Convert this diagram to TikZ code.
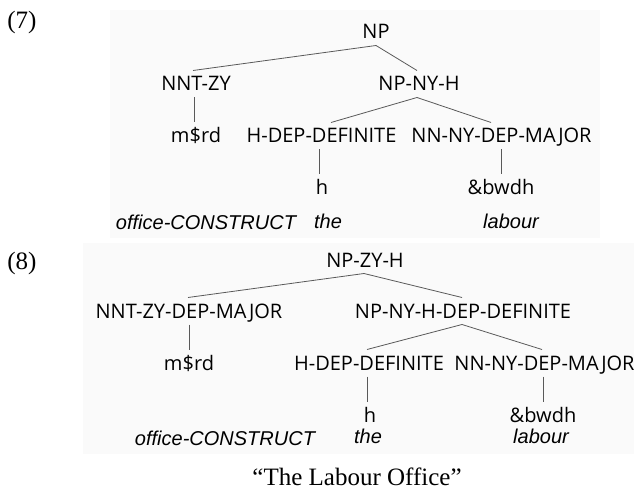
\documentclass[tikz,border=0pt]{standalone}
\usepackage{fontspec}
\setmainfont{Liberation Serif}
\newfontfamily\treefont{Open Sans}
\newfontfamily\glossfont{Liberation Sans}
\begin{document}
\begin{tikzpicture}[x=1pt,y=-1pt,
  lab/.style={font=\treefont\fontsize{20}{24}\selectfont, inner sep=0pt, outer ysep=6.5pt, text height=14pt, text depth=0pt, anchor=base},
  gloss/.style={font=\glossfont\itshape\fontsize{20}{24}\selectfont, inner sep=0pt, anchor=base},
  num/.style={font=\fontsize{25}{30}\selectfont, inner sep=0pt, anchor=base},
  edge/.style={draw=black!65, line width=0.8pt},
  panel/.style={fill=black!2, draw=none}]
\useasboundingbox (0,0) rectangle (634,489);
% panels
\fill[panel] (110,10) rectangle (600,238);
\fill[panel] (83,243) rectangle (634,454);

% ---------- (7) ----------
\node[num] (n7) at (22,29) {(7)};
\node[lab] (a-np)   at (376,39) {NP};
\node[lab] (a-nnt)  at (196,91) {NNT-ZY};
\node[lab] (a-npny) at (419,91) {NP-NY-H};
\node[lab] (a-mrd)  at (196,143) {m\$rd};
\node[lab] (a-hdep) at (321.5,143) {H-DEP-DEFINITE};
\node[lab] (a-nn)   at (501.5,143) {NN-NY-DEP-MAJOR};
\node[lab] (a-h)    at (322,195) {h};
\node[lab] (a-bw)   at (501,195) {\&bwdh};
\node[gloss] (a-g1) at (206,229) {office-CONSTRUCT};
\node[gloss] (a-g2) at (328,228) {the};
\node[gloss] (a-g3) at (511,228) {labour};

\draw[edge] (a-np.south) -- ([xshift=-3pt]a-nnt.north);
\draw[edge] (a-np.south) -- ([xshift=-2pt]a-npny.north);
\draw[edge] ([xshift=-2pt]a-npny.south) -- ([xshift=9.5pt]a-hdep.north);
\draw[edge] ([xshift=-2pt]a-npny.south) -- ([xshift=-10.5pt]a-nn.north);
\draw[edge] ([xshift=-2pt]a-nnt.south) -- ([xshift=-2pt]a-mrd.north);
\draw[edge] ([xshift=-2.5pt]a-hdep.south) -- ([xshift=-3pt]a-h.north);
\draw[edge] ([xshift=-0.5pt]a-nn.south) -- (a-bw.north);

% ---------- (8) ----------
\node[num] (n8) at (22,269) {(8)};
\node[lab] (b-np)   at (365,267) {NP-ZY-H};
\node[lab] (b-nnt)  at (189,318) {NNT-ZY-DEP-MAJOR};
\node[lab] (b-npny) at (463,318) {NP-NY-H-DEP-DEFINITE};
\node[lab] (b-mrd)  at (189,370) {m\$rd};
\node[lab] (b-hdep) at (369,370) {H-DEP-DEFINITE};
\node[lab] (b-nn)   at (544.5,370) {NN-NY-DEP-MAJOR};
\node[lab] (b-h)    at (370,422) {h};
\node[lab] (b-bw)   at (543,422) {\&bwdh};
\node[gloss] (b-g1) at (225,445) {office-CONSTRUCT};
\node[gloss] (b-g2) at (368,443) {the};
\node[gloss] (b-g3) at (541,443) {labour};

\draw[edge] ([xshift=-1pt]b-np.south) -- ([xshift=-1pt]b-nnt.north);
\draw[edge] ([xshift=-1pt]b-np.south) -- ([xshift=-1pt]b-npny.north);
\draw[edge] ([xshift=-1pt]b-npny.south) -- ([xshift=-2pt]b-hdep.north);
\draw[edge] ([xshift=-1pt]b-npny.south) -- ([xshift=-2.5pt]b-nn.north);
\draw[edge] (b-nnt.south) -- (b-mrd.north);
\draw[edge] ([xshift=-2pt]b-hdep.south) -- ([xshift=-3pt]b-h.north);
\draw[edge] ([xshift=-1.5pt]b-nn.south) -- (b-bw.north);

% caption
\node[num] (cap) at (357,485) {``The Labour Office''};
\end{tikzpicture}
\end{document}
